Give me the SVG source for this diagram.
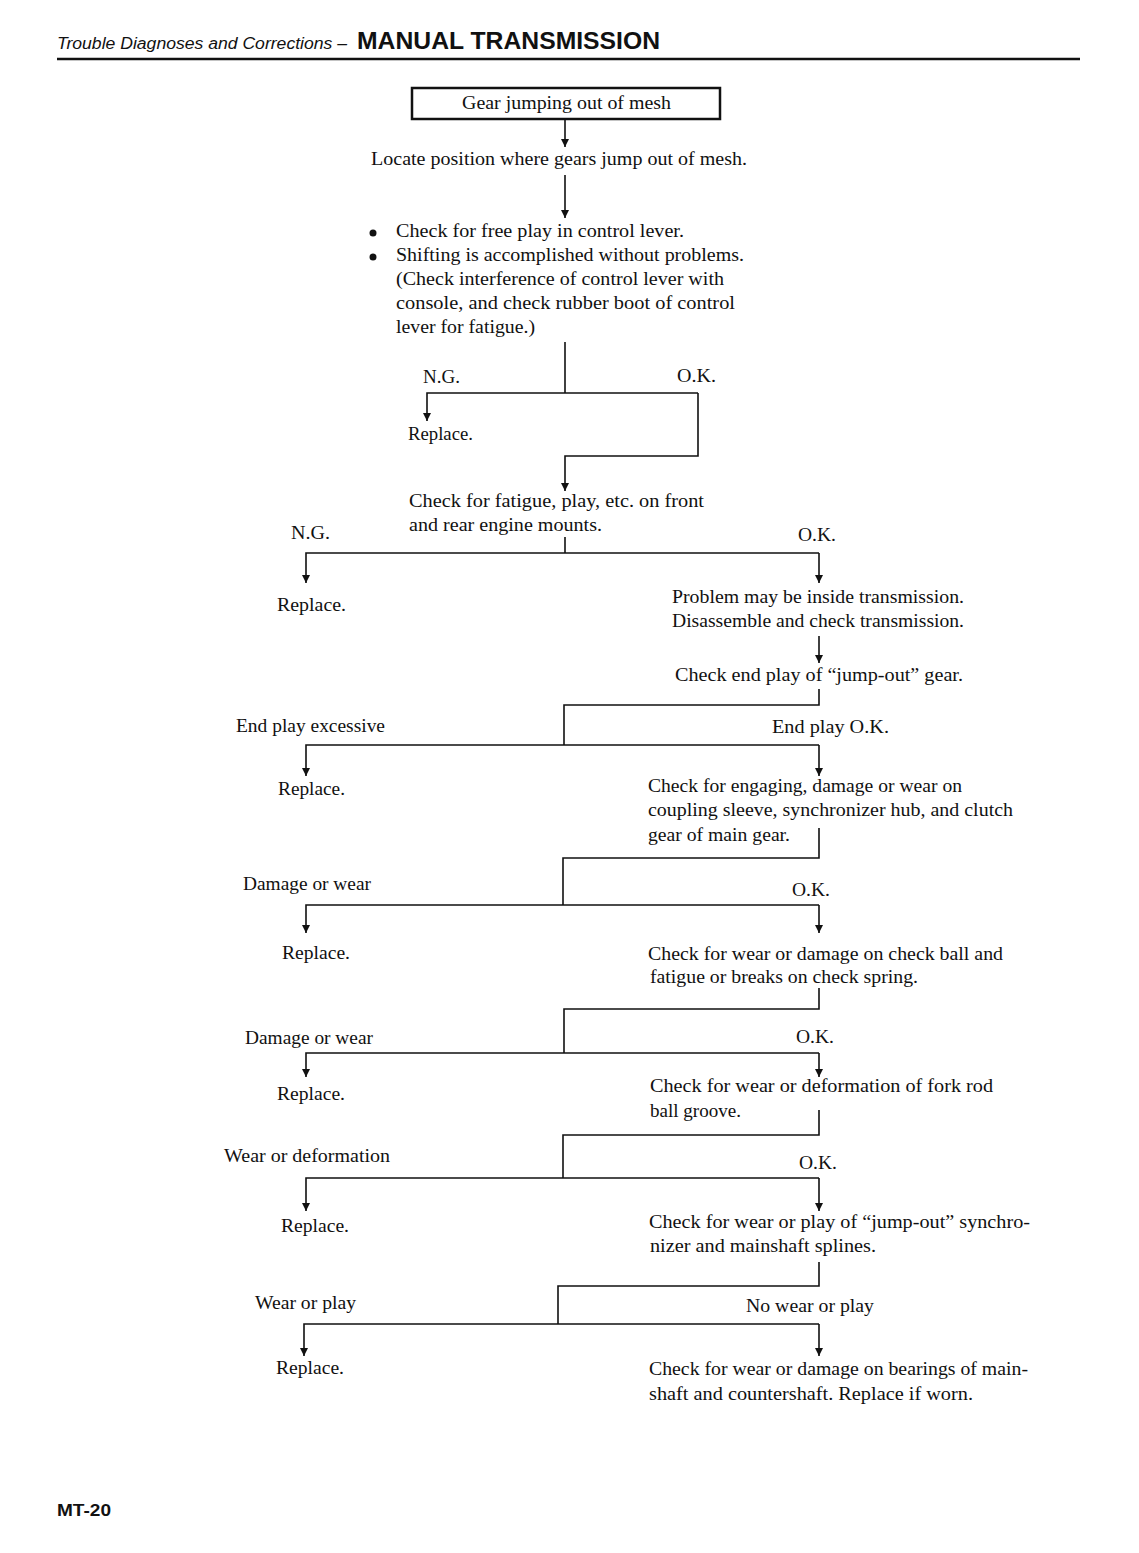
<svg xmlns="http://www.w3.org/2000/svg" width="1139" height="1553" viewBox="0 0 1139 1553">
<defs>
<style>
.t{font-family:"Liberation Serif","Times New Roman",serif;font-size:19px;fill:#111}
.h1{font-family:"Liberation Sans",Arial,sans-serif;font-style:italic;font-size:16px;fill:#111}
.h2{font-family:"Liberation Sans",Arial,sans-serif;font-weight:bold;font-size:23px;fill:#111}
.c{fill:none;stroke:#111;stroke-width:1.6}
</style>
<marker id="ah" viewBox="0 0 10 10" refX="10" refY="5" markerWidth="13" markerHeight="8" markerUnits="userSpaceOnUse" orient="auto">
<path d="M0,0 L10,5 L0,10 z" fill="#111"/>
</marker>
</defs>
<rect width="1139" height="1553" fill="#fff"/>

<g id="header">
<text class="h1" x="57" y="49" textLength="290" lengthAdjust="spacingAndGlyphs">Trouble Diagnoses and Corrections –</text>
<text class="h2" x="357" y="49" textLength="303" lengthAdjust="spacingAndGlyphs">MANUAL  TRANSMISSION</text>
<line x1="57" y1="59" x2="1080" y2="59" stroke="#111" stroke-width="2.5"/>
</g>

<g id="start">
<rect x="412" y="88" width="308" height="31" fill="none" stroke="#111" stroke-width="2.5"/>
<text class="t" x="462" y="109" textLength="209" lengthAdjust="spacingAndGlyphs">Gear jumping out of mesh</text>
</g>

<g id="locate">
<text class="t" x="371" y="165" textLength="376" lengthAdjust="spacingAndGlyphs">Locate position where gears jump out of mesh.</text>
</g>

<g id="check-lever">
<circle cx="373" cy="233" r="3.5" fill="#111"/>
<circle cx="373" cy="257" r="3.5" fill="#111"/>
<text class="t" x="396" y="237" textLength="288" lengthAdjust="spacingAndGlyphs">Check for free play in control lever.</text>
<text class="t" x="396" y="261" textLength="348" lengthAdjust="spacingAndGlyphs">Shifting is accomplished without problems.</text>
<text class="t" x="396" y="285" textLength="328" lengthAdjust="spacingAndGlyphs">(Check interference of control lever with</text>
<text class="t" x="396" y="309" textLength="339" lengthAdjust="spacingAndGlyphs">console, and check rubber boot of control</text>
<text class="t" x="396" y="333" textLength="139" lengthAdjust="spacingAndGlyphs">lever for fatigue.)</text>
</g>

<g id="labels">
<text class="t" x="423" y="383" textLength="37" lengthAdjust="spacingAndGlyphs">N.G.</text>
<text class="t" x="677" y="382" textLength="39" lengthAdjust="spacingAndGlyphs">O.K.</text>
<text class="t" x="291" y="539" textLength="39" lengthAdjust="spacingAndGlyphs">N.G.</text>
<text class="t" x="798" y="541" textLength="38" lengthAdjust="spacingAndGlyphs">O.K.</text>
<text class="t" x="236" y="732" textLength="149" lengthAdjust="spacingAndGlyphs">End play excessive</text>
<text class="t" x="772" y="733" textLength="117" lengthAdjust="spacingAndGlyphs">End play O.K.</text>
<text class="t" x="243" y="890" textLength="128" lengthAdjust="spacingAndGlyphs">Damage or wear</text>
<text class="t" x="792" y="896" textLength="38" lengthAdjust="spacingAndGlyphs">O.K.</text>
<text class="t" x="245" y="1044" textLength="128" lengthAdjust="spacingAndGlyphs">Damage or wear</text>
<text class="t" x="796" y="1043" textLength="38" lengthAdjust="spacingAndGlyphs">O.K.</text>
<text class="t" x="224" y="1162" textLength="166" lengthAdjust="spacingAndGlyphs">Wear or deformation</text>
<text class="t" x="799" y="1169" textLength="38" lengthAdjust="spacingAndGlyphs">O.K.</text>
<text class="t" x="255" y="1309" textLength="101" lengthAdjust="spacingAndGlyphs">Wear or play</text>
<text class="t" x="746" y="1312" textLength="128" lengthAdjust="spacingAndGlyphs">No wear or play</text>
</g>

<g id="replace-1"><text class="t" x="408" y="440" textLength="65" lengthAdjust="spacingAndGlyphs">Replace.</text></g>

<g id="engine-mounts">
<text class="t" x="409" y="507" textLength="295" lengthAdjust="spacingAndGlyphs">Check for fatigue, play, etc. on front</text>
<text class="t" x="409" y="531" textLength="193" lengthAdjust="spacingAndGlyphs">and rear engine mounts.</text>
</g>

<g id="replace-2"><text class="t" x="277" y="611" textLength="69" lengthAdjust="spacingAndGlyphs">Replace.</text></g>

<g id="inside-transmission">
<text class="t" x="672" y="603" textLength="292" lengthAdjust="spacingAndGlyphs">Problem may be inside transmission.</text>
<text class="t" x="672" y="627" textLength="292" lengthAdjust="spacingAndGlyphs">Disassemble and check transmission.</text>
</g>

<g id="end-play">
<text class="t" x="675" y="681" textLength="288" lengthAdjust="spacingAndGlyphs">Check end play of “jump-out” gear.</text>
</g>

<g id="replace-3"><text class="t" x="278" y="795" textLength="67" lengthAdjust="spacingAndGlyphs">Replace.</text></g>

<g id="engaging">
<text class="t" x="648" y="792" textLength="314" lengthAdjust="spacingAndGlyphs">Check for engaging, damage or wear on</text>
<text class="t" x="648" y="816" textLength="365" lengthAdjust="spacingAndGlyphs">coupling sleeve, synchronizer hub, and clutch</text>
<text class="t" x="648" y="841" textLength="142" lengthAdjust="spacingAndGlyphs">gear of main gear.</text>
</g>

<g id="replace-4"><text class="t" x="282" y="959" textLength="68" lengthAdjust="spacingAndGlyphs">Replace.</text></g>

<g id="check-ball">
<text class="t" x="648" y="960" textLength="355" lengthAdjust="spacingAndGlyphs">Check for wear or damage on check ball and</text>
<text class="t" x="650" y="983" textLength="268" lengthAdjust="spacingAndGlyphs">fatigue or breaks on check spring.</text>
</g>

<g id="replace-5"><text class="t" x="277" y="1100" textLength="68" lengthAdjust="spacingAndGlyphs">Replace.</text></g>

<g id="fork-rod">
<text class="t" x="650" y="1092" textLength="343" lengthAdjust="spacingAndGlyphs">Check for wear or deformation of fork rod</text>
<text class="t" x="650" y="1117" textLength="91" lengthAdjust="spacingAndGlyphs">ball groove.</text>
</g>

<g id="replace-6"><text class="t" x="281" y="1232" textLength="68" lengthAdjust="spacingAndGlyphs">Replace.</text></g>

<g id="synchronizer">
<text class="t" x="649" y="1228" textLength="381" lengthAdjust="spacingAndGlyphs">Check for wear or play of “jump-out” synchro-</text>
<text class="t" x="650" y="1252" textLength="226" lengthAdjust="spacingAndGlyphs">nizer and mainshaft splines.</text>
</g>

<g id="replace-7"><text class="t" x="276" y="1374" textLength="68" lengthAdjust="spacingAndGlyphs">Replace.</text></g>

<g id="bearings">
<text class="t" x="649" y="1375" textLength="379" lengthAdjust="spacingAndGlyphs">Check for wear or damage on bearings of main-</text>
<text class="t" x="649" y="1400" textLength="324" lengthAdjust="spacingAndGlyphs">shaft and countershaft. Replace if worn.</text>
</g>

<g id="footer">
<text x="57" y="1516" font-family="Liberation Sans,Arial,sans-serif" font-weight="bold" font-size="17" fill="#111" textLength="54" lengthAdjust="spacingAndGlyphs">MT-20</text>
</g>

<g id="connectors" class="c">
<path class="c" d="M565,119 V147" marker-end="url(#ah)"/>
<path class="c" d="M565,175 V218" marker-end="url(#ah)"/>
<path class="c" d="M565,342 V393"/>
<path class="c" d="M698,393 H427 V421" marker-end="url(#ah)"/>
<path class="c" d="M698,393 V456 H565 V491" marker-end="url(#ah)"/>
<path class="c" d="M565,537 V553"/>
<path class="c" d="M819,553 H306 V583" marker-end="url(#ah)"/>
<path class="c" d="M819,553 V583" marker-end="url(#ah)"/>
<path class="c" d="M819,636 V663" marker-end="url(#ah)"/>
<path class="c" d="M819,689 V705 H564 V745"/>
<path class="c" d="M819,745 H306 V776" marker-end="url(#ah)"/>
<path class="c" d="M819,745 V776" marker-end="url(#ah)"/>
<path class="c" d="M819,828 V858 H563 V905"/>
<path class="c" d="M819,905 H306 V933" marker-end="url(#ah)"/>
<path class="c" d="M819,905 V933" marker-end="url(#ah)"/>
<path class="c" d="M819,988 V1009 H564 V1053"/>
<path class="c" d="M819,1053 H306 V1077" marker-end="url(#ah)"/>
<path class="c" d="M819,1053 V1077" marker-end="url(#ah)"/>
<path class="c" d="M819,1110 V1135 H563 V1178"/>
<path class="c" d="M819,1178 H306 V1211" marker-end="url(#ah)"/>
<path class="c" d="M819,1178 V1211" marker-end="url(#ah)"/>
<path class="c" d="M819,1262 V1286 H558 V1324"/>
<path class="c" d="M819,1324 H304 V1356" marker-end="url(#ah)"/>
<path class="c" d="M819,1324 V1356" marker-end="url(#ah)"/>
</g>
</svg>
